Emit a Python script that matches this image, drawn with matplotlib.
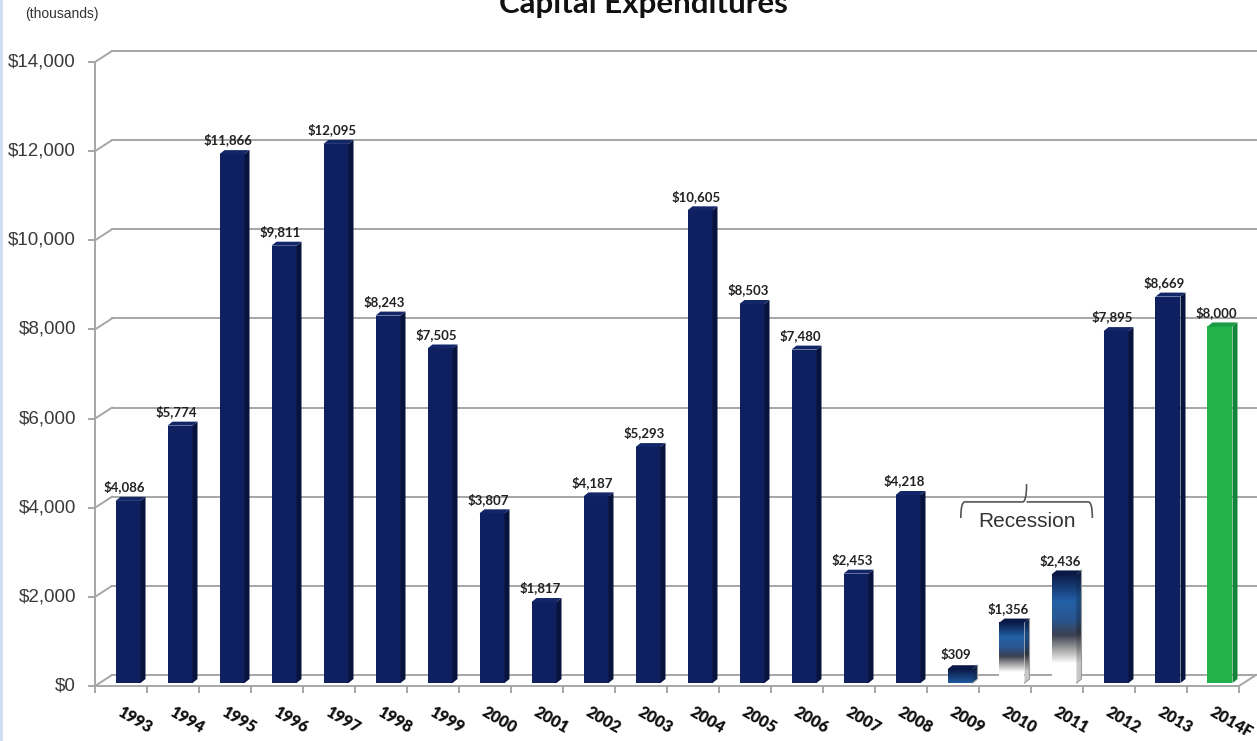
import numpy as np
import matplotlib.pyplot as plt
from matplotlib.patches import Polygon, Rectangle, PathPatch
from matplotlib.path import Path
from matplotlib.colors import LinearSegmentedColormap

# capital expenditures, in thousands of dollars
years = ['1993', '1994', '1995', '1996', '1997', '1998', '1999', '2000', '2001',
         '2002', '2003', '2004', '2005', '2006', '2007', '2008', '2009', '2010',
         '2011', '2012', '2013', '2014F']
capex = [4086, 5774, 11866, 9811, 12095, 8243, 7505, 3807, 1817, 4187, 5293,
         10605, 8503, 7480, 2453, 4218, 309, 1356, 2436, 7895, 8669, 8000]
recession_years = ['2009', '2010', '2011']
forecast_years = ['2014F']
y_ticks = [0, 2000, 4000, 6000, 8000, 10000, 12000, 14000]

W, H = 1257, 741
fig = plt.figure(figsize=(W / 100, H / 100), dpi=100)
fig.patch.set_facecolor('white')
ax = fig.add_axes([95 / W, 55 / H, 1144 / W, 624 / H])
ax.axis('off')

n = len(years)
ymax = 14000
px = n / 1144          # one pixel in category units
py = ymax / 624        # one pixel in value units

grid_col = '#a6a6a6'
wall_dx, wall_dy = 17 * px, 11 * py      # depth of the floor / side wall
bar_off_x, bar_off_y = 7 * px, 3 * py    # bars sit a little behind the front edge
bar_w = 25 * px
side_dx, side_dy = 5 * px, 4 * py

navy_front, navy_side, navy_top = '#0e2060', '#07133d', '#132668'
green_front, green_side, green_top = '#22b24c', '#12853a', '#1a9a42'

# back wall, side wall and floor
left = -0.5
right = n - 0.5
for v in y_ticks:
    ax.plot([left + wall_dx, right + wall_dx], [v + wall_dy, v + wall_dy],
            color=grid_col, lw=1.4, zorder=1, clip_on=False)
    ax.plot([left, left + wall_dx], [v, v + wall_dy],
            color=grid_col, lw=1.4, zorder=1, clip_on=False)
    ax.plot([left - 6 * px, left], [v, v], color=grid_col, lw=1.4, clip_on=False)
    ax.text(left - 19 * px, v, '${:,}'.format(v), ha='right', va='center',
            fontsize=13.5, family='Liberation Sans', color='#3a3a3a')
ax.plot([left, left], [0, ymax], color=grid_col, lw=1.4, zorder=1, clip_on=False)
ax.plot([left, right, right + wall_dx], [0, 0, wall_dy],
        color=grid_col, lw=1.4, zorder=1, clip_on=False)
for k in range(n + 1):
    ax.plot([left + k, left + k], [0, -6 * py], color=grid_col, lw=1.4, clip_on=False)

# gradient for the recession bars, top to bottom
rec_cmap = LinearSegmentedColormap.from_list('rec', [
    (0.0, '#0b1a48'), (0.25, '#2260a6'), (0.42, '#2a5590'), (0.56, '#3b4150'),
    (0.7, '#a9a9a9'), (0.82, '#ffffff'), (1.0, '#ffffff')])
grad_len = 1356        # shortest run of the full fade, so small bars stay blue

for i, (yr, v) in enumerate(zip(years, capex)):
    x0 = i - bar_w / 2 + bar_off_x
    x1 = x0 + bar_w
    y0 = bar_off_y
    y1 = v + bar_off_y
    side = [(x1, y0), (x1 + side_dx, y0 + side_dy),
            (x1 + side_dx, y1 + side_dy), (x1, y1)]
    top = [(x0, y1), (x1, y1), (x1 + side_dx, y1 + side_dy), (x0 + side_dx, y1 + side_dy)]

    if yr in recession_years:
        frac = v / max(v, grad_len)
        grad = rec_cmap(np.linspace(0, frac, 256))[:, None, :]
        grad_side = grad.copy()
        grad_side[..., :3] *= 0.78
        ax.imshow(grad, extent=[x0, x1, y0, y1], origin='upper', aspect='auto',
                  interpolation='bilinear', zorder=3)
        sp = Polygon(side, closed=True, facecolor='none', edgecolor='none')
        ax.add_patch(sp)
        im = ax.imshow(grad_side, extent=[x1, x1 + side_dx, y0, y1 + side_dy],
                       origin='upper', aspect='auto', interpolation='bilinear', zorder=3)
        im.set_clip_path(sp)
        ax.plot([x1 + side_dx, x1 + side_dx, x1], [y1 + side_dy, y0 + side_dy, y0],
                color='#9a9a9a', lw=0.8, zorder=4)
        ax.add_patch(Polygon(top, closed=True, facecolor='#0a1845', edgecolor='none', zorder=4))
    else:
        if yr in forecast_years:
            fc, sc, tc = green_front, green_side, green_top
        else:
            fc, sc, tc = navy_front, navy_side, navy_top
        ax.add_patch(Rectangle((x0, y0), bar_w, v, facecolor=fc, edgecolor='none', zorder=3))
        ax.add_patch(Polygon(side, closed=True, facecolor=sc, edgecolor='none', zorder=3))
        ax.add_patch(Polygon(top, closed=True, facecolor=tc, edgecolor='none', zorder=3))

    ax.text(i + 3 * px, y1 + 14 * py, '${:,}'.format(v), ha='center', va='center',
            fontsize=9.5, family='Lato', fontweight='bold', color='#222222', zorder=5)
    ax.text(i - 2 * px, -25 * py, yr, ha='left', va='center', rotation=-30,
            rotation_mode='anchor', fontsize=11.5, family='Lato', fontweight='heavy',
            color='#111111', clip_on=False)

# recession bracket over 2009-2011
bx0, bx1 = 16.15, 18.68
bxm = (bx0 + bx1) / 2
b_low, b_mid, b_peak = 3770, 4130, 4530
r = 4 * px
verts = [(bx0, b_low), (bx0, b_mid), (bx0 + r, b_mid),
         (bxm - r, b_mid), (bxm, b_mid), (bxm, b_peak),
         (bxm, b_mid), (bxm + r, b_mid),
         (bx1 - r, b_mid), (bx1, b_mid), (bx1, b_low)]
codes = [Path.MOVETO, Path.CURVE3, Path.CURVE3,
         Path.LINETO, Path.CURVE3, Path.CURVE3,
         Path.MOVETO, Path.CURVE3,
         Path.LINETO, Path.CURVE3, Path.CURVE3]
ax.add_patch(PathPatch(Path(verts, codes), facecolor='none', edgecolor='#555555',
                       lw=1.2, zorder=5))
ax.text(bxm, 3690, 'Recession', ha='center', va='center', fontsize=15,
        family='Liberation Sans', color='#333333', zorder=5)

ax.set_xlim(left, right)
ax.set_ylim(0, ymax)

fig.text(643 / W, 1 - 13 / H, 'Capital Expenditures', ha='center', va='baseline',
         fontsize=22.5, family='Lato', fontweight='bold', color='#111111')
fig.text(25 / W, 1 - 14 / H, '(thousands)', ha='left', va='center',
         fontsize=10, family='Liberation Sans', color='#333333')
fig.patches.append(Rectangle((0, 0), 3 / W, 1, transform=fig.transFigure,
                             facecolor='#cfe0f0', edgecolor='none'))

fig.savefig('out.png', dpi=100)
